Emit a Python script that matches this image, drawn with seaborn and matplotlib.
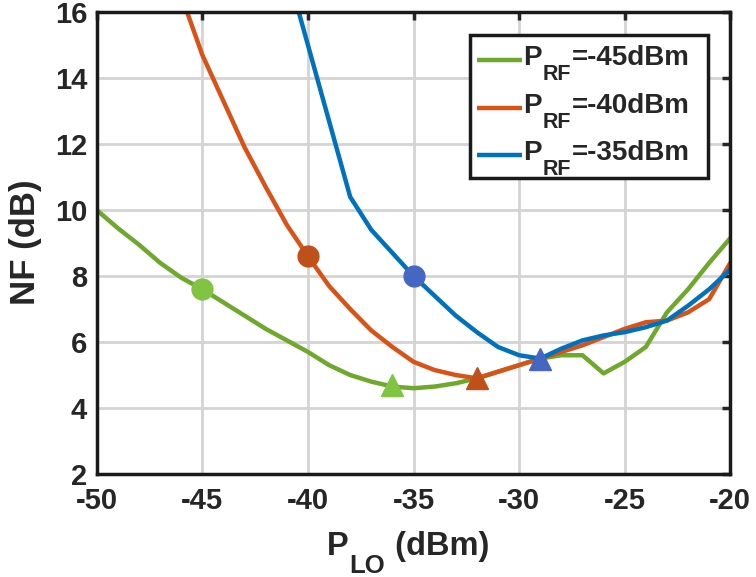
import numpy as np
import pandas as pd
import matplotlib
matplotlib.use("Agg")
import matplotlib.pyplot as plt
from matplotlib.patches import Rectangle
import seaborn as sns

# P_LO sweep (dBm) and NF (dB) per RF input power
plo_45 = [-50, -49, -48, -47, -46, -45, -44, -43, -42, -41, -40, -39, -38, -37, -36, -35,
          -34, -33, -32, -31, -30, -29, -28, -27, -26, -25, -24, -23, -22, -21, -20]
nf_45 = [10.0, 9.45, 8.95, 8.4, 7.95, 7.6, 7.2, 6.8, 6.4, 6.05, 5.7, 5.3, 5.0, 4.8, 4.65, 4.6,
         4.65, 4.75, 4.9, 5.1, 5.3, 5.5, 5.6, 5.6, 5.05, 5.4, 5.85, 6.9, 7.6, 8.4, 9.15]

plo_40 = [-46, -45, -44, -43, -42, -41, -40, -39, -38, -37, -36, -35, -34, -33, -32,
          -31, -30, -29, -28, -27, -26, -25, -24, -23, -22, -21, -20]
nf_40 = [16.5, 14.7, 13.3, 11.9, 10.7, 9.55, 8.6, 7.7, 7.0, 6.35, 5.85, 5.4, 5.15, 5.0, 4.9,
         5.1, 5.3, 5.5, 5.7, 5.9, 6.15, 6.4, 6.6, 6.65, 6.9, 7.3, 8.4]

plo_35 = [-41, -40, -39, -38, -37, -36, -35, -34, -33, -32, -31, -30, -29,
          -28, -27, -26, -25, -24, -23, -22, -21, -20]
nf_35 = [17.3, 15.0, 12.7, 10.4, 9.4, 8.7, 8.0, 7.4, 6.8, 6.3, 5.85, 5.6, 5.5,
         5.8, 6.05, 6.2, 6.3, 6.45, 6.65, 7.1, 7.6, 8.2]

cases = ["-45", "-40", "-35"]
legend_rest = ["=-45dBm", "=-40dBm", "=-35dBm"]
line_colors = ["#6EA82C", "#D95319", "#0072BD"]
mark_colors = ["#80C441", "#C0501A", "#4566C2"]

circle_x = [-45, -40, -35]
circle_y = [7.6, 8.6, 8.0]
tri_x = [-36, -32, -29]
tri_y = [4.7, 4.9, 5.5]

df = pd.concat([
    pd.DataFrame({"plo": plo_45, "nf": nf_45, "case": cases[0]}),
    pd.DataFrame({"plo": plo_40, "nf": nf_40, "case": cases[1]}),
    pd.DataFrame({"plo": plo_35, "nf": nf_35, "case": cases[2]}),
])

sns.set_style("white")
plt.rcParams['font.family'] = ['Liberation Sans', 'DejaVu Sans']
plt.rcParams['font.weight'] = 'bold'
plt.rcParams['axes.unicode_minus'] = False

fig = plt.figure(figsize=(7.56, 5.77), dpi=100)
ax = fig.add_axes([0.128, 0.1785, 0.838, 0.8005])

sns.lineplot(data=df, x="plo", y="nf", hue="case", palette=line_colors,
             linewidth=3.2, ax=ax, sort=False, legend=False)

for i in range(3):
    ax.plot(circle_x[i], circle_y[i], "o", color=mark_colors[i], markersize=15, zorder=5)
    ax.plot(tri_x[i], tri_y[i], "^", color=mark_colors[i], markersize=16, zorder=5)

ax.set_xlim(-50, -20)
ax.set_ylim(2, 16)
ax.set_xticks(np.arange(-50, -19, 5))
ax.set_yticks(np.arange(2, 17, 2))
ax.grid(True, color="#d4d4d4", linewidth=2)
ax.tick_params(direction="in", length=6, width=2.5, labelsize=21, top=True, right=True)
ax.tick_params(axis="x", pad=9.5)
ax.tick_params(axis="y", pad=7)
for lab in ax.get_xticklabels() + ax.get_yticklabels():
    lab.set_fontweight("bold")
for sp in ax.spines.values():
    sp.set_linewidth(2.5)
    sp.set_color("#1a1a1a")

ax.set_xlabel("")
ax.set_ylabel("NF (dB)", fontsize=25, fontweight="bold")
ax.yaxis.set_label_coords(-0.087, 0.502)


def sub_label(x, y, trans, main, sub, rest, size, sub_size, drop):
    # main text, a lowered subscript, then the rest on the main baseline
    t0 = fig.text(x, y, main, transform=trans, fontsize=size, fontweight="bold",
                  ha="left", va="baseline", zorder=10)
    t1 = ax.annotate(sub, xy=(1, y), xycoords=(t0, trans), xytext=(0.5, -drop),
                     textcoords="offset points", fontsize=sub_size, fontweight="bold",
                     ha="left", va="baseline", zorder=10, annotation_clip=False)
    ax.annotate(rest, xy=(1, y), xycoords=(t1, trans), xytext=(0.5, 0),
                textcoords="offset points", fontsize=size, fontweight="bold",
                ha="left", va="baseline", zorder=10, annotation_clip=False)


# x axis label P_LO (dBm)
sub_label(0.4325, 0.0381, fig.transFigure, "P", "LO", " (dBm)", 23.5, 18.5, 13)

# legend drawn by hand, in axes fraction
ax.add_patch(Rectangle((0.589, 0.6407), 0.3755, 0.3095, transform=ax.transAxes,
                       facecolor="white", edgecolor="#1a1a1a", linewidth=2.5, zorder=8))
row_line_y = [0.8961, 0.7933, 0.6905]
row_base_y = [0.8853, 0.7825, 0.6797]
for i in range(3):
    ax.plot([0.6003, 0.6714], [row_line_y[i], row_line_y[i]], color=line_colors[i],
            linewidth=3.2, transform=ax.transAxes, zorder=9, solid_capstyle="butt")
    sub_label(0.673, row_base_y[i], ax.transAxes, "P", "RF", legend_rest[i], 20, 15.5, 11)

fig.savefig("out.png", dpi=100)
